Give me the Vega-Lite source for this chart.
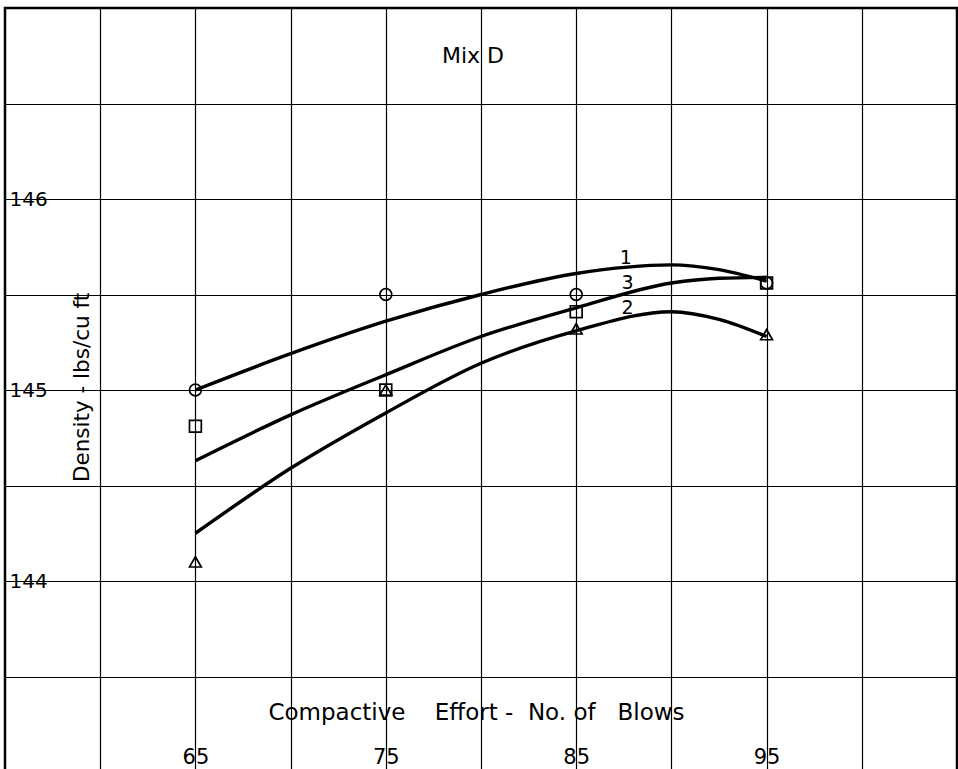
{
  "$schema": "https://vega.github.io/schema/vega-lite/v6.json",
  "width": 952,
  "height": 764,
  "autosize": {"type": "none"},
  "padding": {"left": 5, "top": 8, "right": 1, "bottom": 0},
  "background": "white",
  "config": {
    "view": {"stroke": "black", "strokeWidth": 2.5},
    "font": "DejaVu Sans"
  },
  "title": {
    "text": "Mix D",
    "fontSize": 22,
    "fontWeight": "normal",
    "font": "DejaVu Sans",
    "color": "black",
    "anchor": "middle",
    "offset": -60,
    "dx": -8
  },
  "datasets": {
    "curves": [
      {"curve": "1", "blows": 65, "density": 145.0},
      {"curve": "1", "blows": 70, "density": 145.19},
      {"curve": "1", "blows": 75, "density": 145.36},
      {"curve": "1", "blows": 80, "density": 145.5},
      {"curve": "1", "blows": 85, "density": 145.61},
      {"curve": "1", "blows": 90, "density": 145.655},
      {"curve": "1", "blows": 92.5, "density": 145.63},
      {"curve": "1", "blows": 95, "density": 145.57},
      {"curve": "3", "blows": 65, "density": 144.63},
      {"curve": "3", "blows": 70, "density": 144.87},
      {"curve": "3", "blows": 75, "density": 145.08},
      {"curve": "3", "blows": 80, "density": 145.28},
      {"curve": "3", "blows": 85, "density": 145.43},
      {"curve": "3", "blows": 90, "density": 145.56},
      {"curve": "3", "blows": 92.5, "density": 145.585},
      {"curve": "3", "blows": 95, "density": 145.59},
      {"curve": "2", "blows": 65, "density": 144.25},
      {"curve": "2", "blows": 70, "density": 144.59},
      {"curve": "2", "blows": 75, "density": 144.88},
      {"curve": "2", "blows": 80, "density": 145.14},
      {"curve": "2", "blows": 85, "density": 145.31},
      {"curve": "2", "blows": 90, "density": 145.41},
      {"curve": "2", "blows": 92.5, "density": 145.37},
      {"curve": "2", "blows": 95, "density": 145.28}
    ],
    "points": [
      {"series": "1", "blows": 65, "density": 145.0},
      {"series": "1", "blows": 75, "density": 145.5},
      {"series": "1", "blows": 85, "density": 145.5},
      {"series": "1", "blows": 95, "density": 145.56},
      {"series": "3", "blows": 65, "density": 144.81},
      {"series": "3", "blows": 75, "density": 145.0},
      {"series": "3", "blows": 85, "density": 145.41},
      {"series": "3", "blows": 95, "density": 145.56},
      {"series": "2", "blows": 65, "density": 144.1},
      {"series": "2", "blows": 75, "density": 145.0},
      {"series": "2", "blows": 85, "density": 145.32},
      {"series": "2", "blows": 95, "density": 145.29}
    ],
    "labels": [
      {"curve": "1", "blows": 87.6, "density": 145.69},
      {"curve": "3", "blows": 87.7, "density": 145.56},
      {"curve": "2", "blows": 87.7, "density": 145.43}
    ]
  },
  "encoding": {
    "x": {
      "field": "blows",
      "type": "quantitative",
      "scale": {"domain": [55, 105], "nice": false, "zero": false},
      "axis": {
        "values": [60, 65, 70, 75, 80, 85, 90, 95, 100],
        "grid": true,
        "gridColor": "black",
        "gridWidth": 1.2,
        "gridOpacity": 1,
        "ticks": false,
        "domain": false,
        "labelExpr": "datum.value % 10 == 5 ? datum.label : ''",
        "labelFont": "DejaVu Sans",
        "labelFontSize": 21,
        "labelColor": "black",
        "labelBaseline": "middle",
        "labelPadding": -15,
        "labelFlush": false,
        "labelOverlap": false,
        "title": "Compactive\u00a0\u00a0\u00a0\u00a0Effort\u00a0-\u00a0\u00a0No.\u00a0of\u00a0\u00a0\u00a0Blows",
        "titleFont": "DejaVu Sans",
        "titleFontSize": 23,
        "titleFontWeight": "normal",
        "titleColor": "black",
        "titleX": 471,
        "titleY": -60,
        "titleAlign": "center",
        "titleBaseline": "middle"
      }
    },
    "y": {
      "field": "density",
      "type": "quantitative",
      "scale": {"domain": [143, 147], "nice": false, "zero": false},
      "axis": {
        "values": [143.5, 144, 144.5, 145, 145.5, 146, 146.5],
        "grid": true,
        "gridColor": "black",
        "gridWidth": 1.2,
        "gridOpacity": 1,
        "ticks": false,
        "domain": false,
        "labelExpr": "datum.value % 1 == 0 ? format(datum.value, 'd') : ''",
        "labelFont": "DejaVu Sans",
        "labelFontSize": 20,
        "labelColor": "black",
        "labelAlign": "left",
        "labelBaseline": "middle",
        "labelPadding": -4,
        "labelOverlap": false,
        "title": "Density - lbs/cu ft",
        "titleFont": "DejaVu Sans",
        "titleFontSize": 21.5,
        "titleFontWeight": "normal",
        "titleColor": "black",
        "titleAngle": 270,
        "titleX": 77,
        "titleY": 379,
        "titleAlign": "center",
        "titleBaseline": "middle"
      }
    }
  },
  "layer": [
    {
      "data": {"name": "curves"},
      "mark": {"type": "line", "interpolate": "monotone", "color": "black", "strokeWidth": 3.4},
      "encoding": {"detail": {"field": "curve"}}
    },
    {
      "data": {"name": "points"},
      "mark": {"type": "point", "filled": false, "color": "black", "strokeWidth": 1.7, "size": 140, "opacity": 1},
      "encoding": {
        "shape": {
          "field": "series",
          "type": "nominal",
          "scale": {"domain": ["1", "2", "3"], "range": ["circle", "triangle-up", "square"]},
          "legend": null
        }
      }
    },
    {
      "data": {"name": "labels"},
      "mark": {"type": "text", "fontSize": 19, "font": "DejaVu Sans", "color": "black", "align": "center", "baseline": "middle"},
      "encoding": {"text": {"field": "curve"}}
    }
  ]
}
